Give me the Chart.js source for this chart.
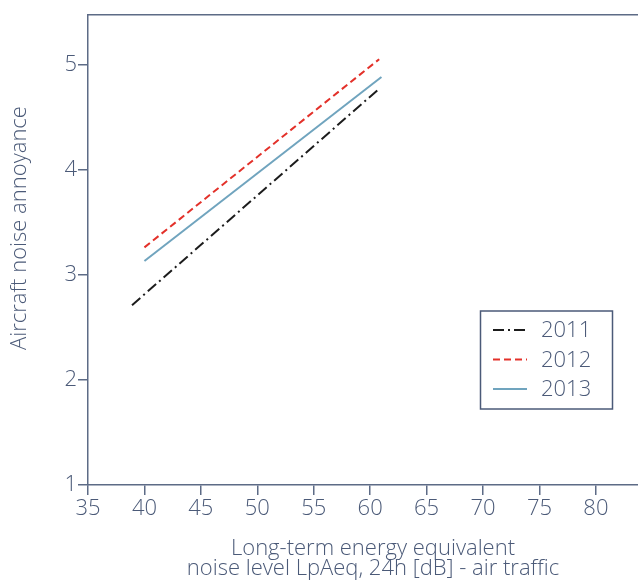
<!DOCTYPE html>
<html>
<head>
<meta charset="utf-8">
<script src="https://cdn.jsdelivr.net/npm/chart.js@4"></script>
<style>
  html, body { margin: 0; padding: 0; background: #fff; overflow: hidden; }
  #wrap { width: 658px; height: 581px; }
</style>
</head>
<body>
<div id="wrap"><canvas id="chart"></canvas></div>
<script>
// values
const years = ["2011", "2012", "2013"];
const x2011 = [38.9, 60.7];
const y2011 = [2.71, 4.76];
const x2012 = [40.0, 60.8];
const y2012 = [3.26, 5.05];
const x2013 = [40.0, 61.0];
const y2013 = [3.13, 4.88];
const xTicks = [35, 40, 45, 50, 55, 60, 65, 70, 75, 80];
const yTicks = [1, 2, 3, 4, 5];

const slate = "#4b5a78";
const axisColor = "#5d6b86";
const fontFamily = "'Open Sans', 'DejaVu Sans', sans-serif";

function pts(xs, ys) {
  return xs.map((x, i) => ({ x: x, y: ys[i] }));
}

// legend box and rotated y title drawn on top of the chart
const extras = {
  id: "extras",
  afterDraw(chart) {
    const ctx = chart.ctx;
    ctx.save();
    ctx.strokeStyle = slate;
    ctx.lineWidth = 1.5;
    ctx.strokeRect(480.5, 311, 132, 98);
    ctx.font = "300 22px " + fontFamily;
    ctx.textBaseline = "middle";
    chart.data.datasets.forEach((ds, i) => {
      const y = 330 + i * 29.5;
      ctx.strokeStyle = ds.borderColor;
      ctx.lineWidth = ds.borderWidth;
      ctx.setLineDash(ds.borderDash || []);
      ctx.beginPath();
      ctx.moveTo(493, y);
      ctx.lineTo(527, y);
      ctx.stroke();
      ctx.setLineDash([]);
      ctx.fillStyle = slate;
      ctx.fillText(ds.label, 541, y + 1);
    });
    ctx.translate(20, 228);
    ctx.rotate(-Math.PI / 2);
    ctx.textAlign = "center";
    ctx.font = "300 22px " + fontFamily;
    ctx.fillStyle = slate;
    ctx.fillText("Aircraft noise annoyance", 0, 0);
    ctx.restore();
  }
};

new Chart(document.getElementById("chart"), {
  type: "line",
  data: {
    datasets: [
      {
        label: years[0],
        data: pts(x2011, y2011),
        borderColor: "#1c1c1c",
        borderWidth: 2,
        borderDash: [11, 4, 2, 4],
        xAxisID: "x",
        yAxisID: "y"
      },
      {
        label: years[1],
        data: pts(x2012, y2012),
        borderColor: "#e3312a",
        borderWidth: 2,
        borderDash: [7, 4],
        xAxisID: "x",
        yAxisID: "y"
      },
      {
        label: years[2],
        data: pts(x2013, y2013),
        borderColor: "#70a4be",
        borderWidth: 2,
        xAxisID: "x",
        yAxisID: "y"
      }
    ]
  },
  options: {
    responsive: true,
    maintainAspectRatio: false,
    animation: false,
    events: [],
    elements: { point: { radius: 0 }, line: { tension: 0 } },
    layout: { padding: { top: 15, left: 0, right: 0, bottom: 0 } },
    plugins: { legend: { display: false }, tooltip: { enabled: false } },
    scales: {
      x: {
        type: "linear",
        position: "bottom",
        min: 35,
        max: 85.5,
        afterBuildTicks: (s) => { s.ticks = xTicks.map((v) => ({ value: v })); },
        afterFit: (s) => { s.height = 96; },
        ticks: {
          color: slate,
          padding: 1,
          font: { family: fontFamily, size: 22, weight: 300 }
        },
        grid: { drawOnChartArea: false, tickLength: 10, color: axisColor, lineWidth: 1.5 },
        border: { color: axisColor, width: 1.5 },
        title: {
          display: true,
          text: ["Long-term energy equivalent", "noise level LpAeq, 24h [dB] - air traffic"],
          color: slate,
          padding: { top: 0, bottom: 2 },
          font: { family: fontFamily, size: 22, weight: 300, lineHeight: 0.91 }
        }
      },
      x2: {
        type: "linear",
        position: "top",
        min: 35,
        max: 85.5,
        ticks: { display: false },
        grid: { drawOnChartArea: false, drawTicks: false },
        border: { color: axisColor, width: 1.5 },
        afterFit: (s) => { s.height = 0; }
      },
      y: {
        type: "linear",
        min: 1,
        max: 5.47,
        afterBuildTicks: (s) => { s.ticks = yTicks.map((v) => ({ value: v })); },
        afterFit: (s) => { s.width = 88; },
        ticks: {
          color: slate,
          padding: 1,
          font: { family: fontFamily, size: 22, weight: 300 }
        },
        grid: { drawOnChartArea: false, tickLength: 10, color: axisColor, lineWidth: 1.5 },
        border: { color: axisColor, width: 1.5 }
      }
    }
  },
  plugins: [extras]
});
</script>
</body>
</html>
